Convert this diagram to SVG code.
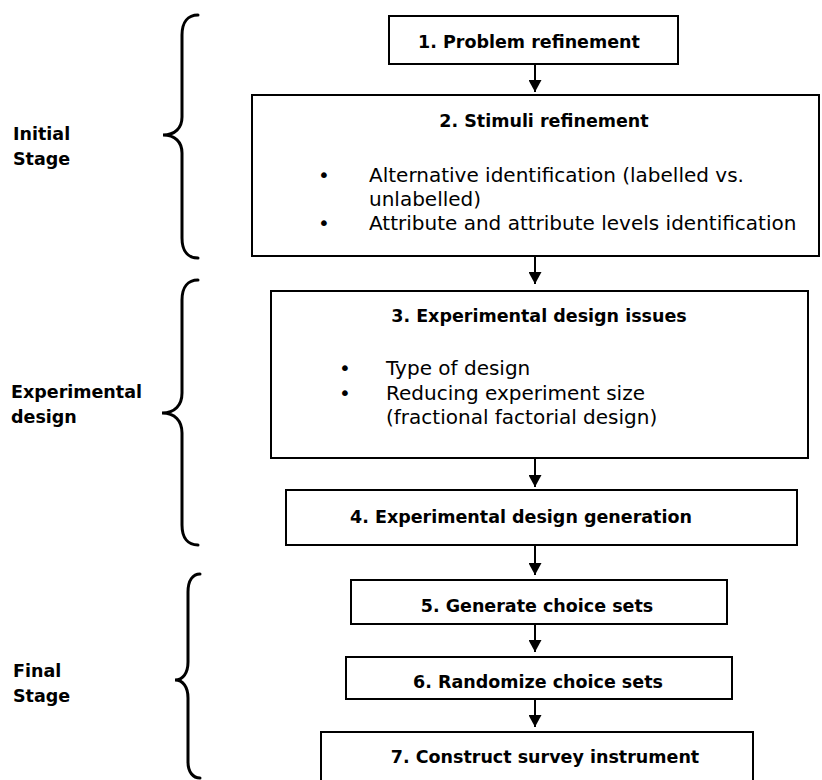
<svg xmlns="http://www.w3.org/2000/svg" width="822" height="780" viewBox="0 0 822 780">
<defs>
<style>
.box{fill:#fff;stroke:#000;stroke-width:2}
.brace{fill:none;stroke:#000;stroke-width:3;stroke-linecap:round}
.t{font-family:"DejaVu Sans","Liberation Sans",sans-serif;font-size:17.5px;font-weight:bold;fill:#000;text-anchor:middle}
.s{font-family:"DejaVu Sans","Liberation Sans",sans-serif;font-size:17.5px;font-weight:bold;fill:#000}
.b{font-family:"DejaVu Sans","Liberation Sans",sans-serif;font-size:20px;fill:#000}
.bl{font-family:"DejaVu Sans","Liberation Sans",sans-serif;font-size:20px;fill:#000;text-anchor:middle}
.arr{stroke:#000;stroke-width:2;fill:none;marker-end:url(#ah)}
</style>
<marker id="ah" markerUnits="userSpaceOnUse" markerWidth="13" markerHeight="13" refX="12" refY="6.5" orient="auto">
<path d="M0,0 L12,6.5 L0,13 z" fill="#000"/>
</marker>
</defs>
<rect width="822" height="780" fill="#fff"/>

<g id="stage-initial">
<path class="brace" d="M198,15 C188,15 182,22 182,35 L182,117 C182,128 175,135 163,135 C175,135 182,142 182,153 L182,238 C182,251 188,258 198,258"/>
<text class="s" x="13" y="140">Initial</text>
<text class="s" x="13" y="165">Stage</text>
</g>
<g id="stage-experimental">
<path class="brace" d="M198,280 C188,280 182,287 182,300 L182,393 C182,405 175,413 162,413 C175,413 182,421 182,433 L182,525 C182,538 188,545 198,545"/>
<text class="s" x="11" y="398">Experimental</text>
<text class="s" x="11" y="423">design</text>
</g>
<g id="stage-final">
<path class="brace" d="M200,574 C193,574 188,580 188,592 L188,662 C188,673 183,680 175,680 C183,680 188,687 188,698 L188,762 C188,772 193,778 200,778"/>
<text class="s" x="13" y="677">Final</text>
<text class="s" x="13" y="702">Stage</text>
</g>

<g id="n1">
<rect class="box" x="389" y="16" width="289" height="48"/>
<text class="t" x="529" y="48">1. Problem refinement</text>
</g>
<g id="n2">
<rect class="box" x="252" y="95" width="567" height="161"/>
<text class="t" x="544" y="127">2. Stimuli refinement</text>
<text class="bl" x="324" y="182">•</text>
<text class="b" x="369" y="182">Alternative identification (labelled vs.</text>
<text class="b" x="369" y="206">unlabelled)</text>
<text class="bl" x="324" y="230">•</text>
<text class="b" x="369" y="230">Attribute and attribute levels identification</text>
</g>
<g id="n3">
<rect class="box" x="271" y="291" width="537" height="167"/>
<text class="t" x="539" y="322">3. Experimental design issues</text>
<text class="bl" x="345" y="375">•</text>
<text class="b" x="386" y="375">Type of design</text>
<text class="bl" x="345" y="400">•</text>
<text class="b" x="386" y="400">Reducing experiment size</text>
<text class="b" x="386" y="424">(fractional factorial design)</text>
</g>
<g id="n4">
<rect class="box" x="286" y="490" width="511" height="55"/>
<text class="t" x="521" y="523">4. Experimental design generation</text>
</g>
<g id="n5">
<rect class="box" x="351" y="580" width="376" height="44"/>
<text class="t" x="537" y="612">5. Generate choice sets</text>
</g>
<g id="n6">
<rect class="box" x="346" y="657" width="386" height="42"/>
<text class="t" x="538" y="688">6. Randomize choice sets</text>
</g>
<g id="n7">
<rect class="box" x="321" y="732" width="432" height="60"/>
<text class="t" x="545" y="763">7. Construct survey instrument</text>
</g>

<g id="connectors">
<line class="arr" x1="535" y1="64" x2="535" y2="92"/>
<line class="arr" x1="535" y1="257" x2="535" y2="284"/>
<line class="arr" x1="535" y1="459" x2="535" y2="487"/>
<line class="arr" x1="535" y1="546" x2="535" y2="575"/>
<line class="arr" x1="535" y1="625" x2="535" y2="652"/>
<line class="arr" x1="535" y1="700" x2="535" y2="727"/>
</g>
</svg>
